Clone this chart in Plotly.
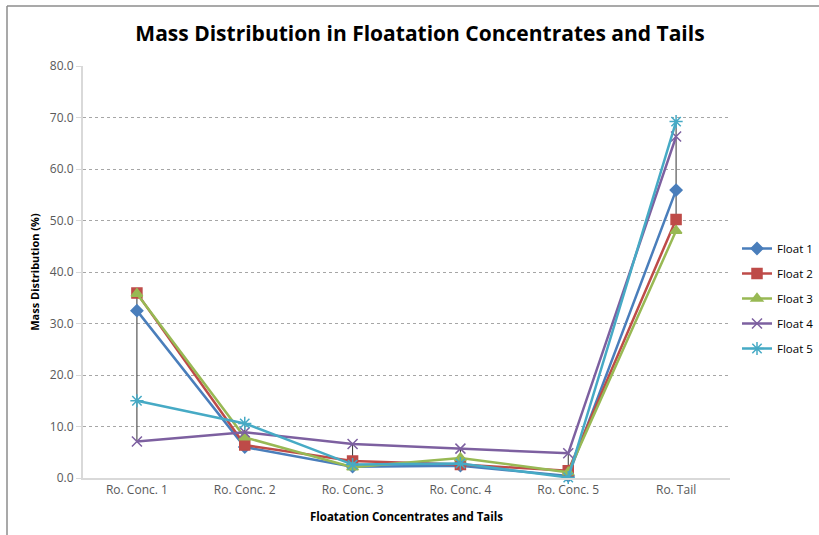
import plotly.graph_objects as go

categories = ["Ro. Conc. 1", "Ro. Conc. 2", "Ro. Conc. 3", "Ro. Conc. 4", "Ro. Conc. 5", "Ro. Tail"]
float1 = [32.5, 6.0, 2.2, 2.4, 0.4, 55.9]
float2 = [35.9, 6.4, 3.3, 2.6, 1.4, 50.2]
float3 = [35.8, 7.9, 2.1, 3.9, 1.1, 48.0]
float4 = [7.1, 8.9, 6.6, 5.7, 4.8, 66.3]
float5 = [15.0, 10.6, 2.6, 2.8, 0.1, 69.2]
series_names = ["Float 1", "Float 2", "Float 3", "Float 4", "Float 5"]
series_values = [float1, float2, float3, float4, float5]
colors = ["#4a7ebb", "#be4b48", "#98b954", "#7d60a0", "#46aac5"]
symbols = ["diamond", "square", "triangle-up", "x-thin", "asterisk"]
sizes = [9, 10, 10, 10, 11]
y_ticks = [0, 10, 20, 30, 40, 50, 60, 70, 80]

fig = go.Figure()

# high-low lines
hx, hy = [], []
for i, c in enumerate(categories):
    vals = [s[i] for s in series_values]
    hx += [c, c, None]
    hy += [min(vals), max(vals), None]
fig.add_trace(go.Scatter(x=hx, y=hy, mode="lines", line=dict(color="#333333", width=1),
                         showlegend=False, hoverinfo="skip", cliponaxis=False))

for name, vals, col, sym, sz in zip(series_names, series_values, colors, symbols, sizes):
    fig.add_trace(go.Scatter(
        x=categories, y=vals, name=name, mode="lines+markers",
        line=dict(color=col, width=2.5),
        marker=dict(symbol=sym, size=sz, color=col, line=dict(color=col, width=1.5)),
        legendgroup=name, cliponaxis=False))

L, R, T, B = 83, 89, 66, 57
W, H = 819, 535
pw, ph = W - L - R, H - T - B

def px2x(p):
    return (p - L) / pw

def py2y(p):
    return (H - B - p) / ph

fig.update_layout(
    width=W, height=H,
    margin=dict(l=L, r=R, t=T, b=B, pad=0, autoexpand=False),
    paper_bgcolor="white", plot_bgcolor="white",
    font=dict(family="Open Sans, sans-serif", color="#595959", size=12),
    title=dict(text="<b>Mass Distribution in Floatation Concentrates and Tails</b>",
               x=px2x(420), xref="paper", xanchor="center",
               y=1 - 34 / H, yanchor="middle",
               font=dict(size=21, color="#000000", family="Open Sans, sans-serif")),
    xaxis=dict(type="category", range=[-0.5, 5.5], showgrid=False,
               showline=True, linecolor="#d9d9d9", linewidth=2,
               ticks="", tickfont=dict(size=12, color="#595959"),
               title=dict(text="<b>Floatation Concentrates and Tails</b>",
                          font=dict(size=11.5, color="#000000"), standoff=16)),
    yaxis=dict(range=[0, 80], tickvals=y_ticks, tickformat=".1f",
               showgrid=True, gridcolor="#a6a6a6", griddash="dot", gridwidth=1,
               showline=True, linecolor="#d9d9d9", linewidth=2,
               ticks="outside", ticklen=5, tickcolor="#d9d9d9",
               zeroline=False, tickfont=dict(size=12, color="#595959"),
               title=dict(text="<b>Mass Distribution (%)</b>",
                          font=dict(size=11, color="#000000"), standoff=8)),
    legend=dict(x=px2x(737), xanchor="left", y=py2y(234), yanchor="top",
                font=dict(size=11.5, color="#000000"), tracegroupgap=6,
                bgcolor="rgba(0,0,0,0)", itemwidth=30, borderwidth=0),
    shapes=[
        dict(type="line", xref="paper", yref="paper", x0=px2x(7), x1=px2x(7),
             y0=py2y(H + 5), y1=py2y(6), line=dict(color="#8c8c8c", width=1.5)),
        dict(type="line", xref="paper", yref="paper", x0=px2x(7), x1=px2x(W + 5),
             y0=py2y(6), y1=py2y(6), line=dict(color="#8c8c8c", width=1.5)),
    ],
)

fig.write_html("out.html")
